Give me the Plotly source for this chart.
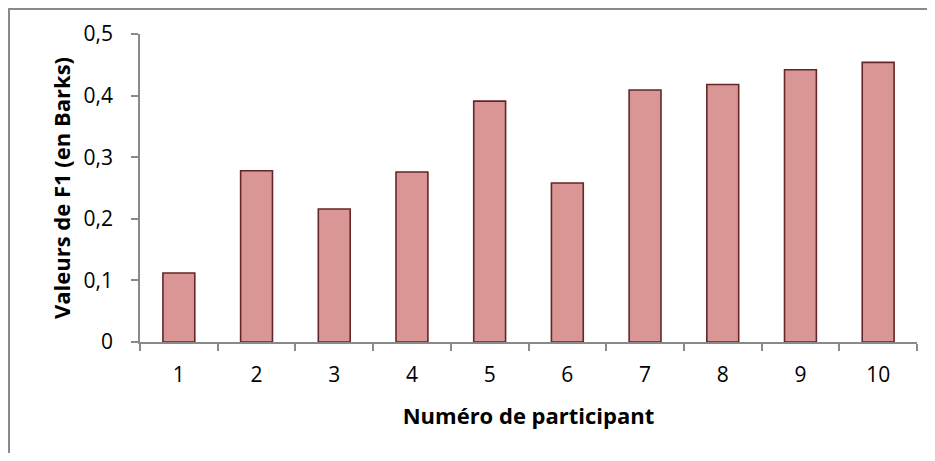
import plotly.graph_objects as go

# Numéro de participant / valeurs de F1 (Barks)
participants = ["1", "2", "3", "4", "5", "6", "7", "8", "9", "10"]
f1_values = [0.112, 0.278, 0.216, 0.276, 0.391, 0.258, 0.409, 0.418, 0.442, 0.454]
y_ticks = [0, 0.1, 0.2, 0.3, 0.4, 0.5]
y_tick_labels = ["0", "0,1", "0,2", "0,3", "0,4", "0,5"]

axis_grey = "#898989"
font_name = "Open Sans"

# la page ajoute 8 px de marge autour de la figure
W, H = 919, 445
L, R, T, B = 132, 10, 26, 111
plot_w = W - L - R
plot_h = H - T - B

fig = go.Figure()
fig.add_trace(go.Bar(
    x=participants,
    y=f1_values,
    marker=dict(color="#D99694", line=dict(color="#652626", width=1.6)),
    showlegend=False,
    hoverinfo="x+y",
))

fig.update_layout(
    width=W,
    height=H,
    margin=dict(l=L, r=R, t=T, b=B),
    paper_bgcolor="white",
    plot_bgcolor="white",
    bargap=0.59,
    font=dict(family=font_name, color="black", size=21),
    xaxis=dict(
        type="category",
        showline=True,
        linecolor=axis_grey,
        linewidth=1.5,
        ticks="outside",
        tickson="boundaries",
        ticklen=7,
        tickcolor=axis_grey,
        tickwidth=1.5,
        ticklabelstandoff=13,
        showgrid=False,
        tickfont=dict(size=21),
        title=dict(text="<b>Numéro de participant</b>", font=dict(size=22), standoff=22),
    ),
    yaxis=dict(
        range=[0, 0.5],
        tickvals=y_ticks,
        ticktext=y_tick_labels,
        showline=True,
        linecolor=axis_grey,
        linewidth=1.5,
        ticks="outside",
        ticklen=7,
        tickcolor=axis_grey,
        tickwidth=1.5,
        ticklabelstandoff=14,
        showgrid=False,
        zeroline=False,
        tickfont=dict(size=21),
        title=dict(text="<b>Valeurs de F1 (en Barks)</b>", font=dict(size=22), standoff=7),
    ),
    shapes=[dict(
        type="rect",
        xref="paper", yref="paper",
        x0=(1 - L) / plot_w, x1=1.5,
        y0=-1.0, y1=(plot_h + T - 1) / plot_h,
        line=dict(color=axis_grey, width=2),
        fillcolor="rgba(0,0,0,0)",
        layer="below",
    )],
)

fig.write_html("out.html")
